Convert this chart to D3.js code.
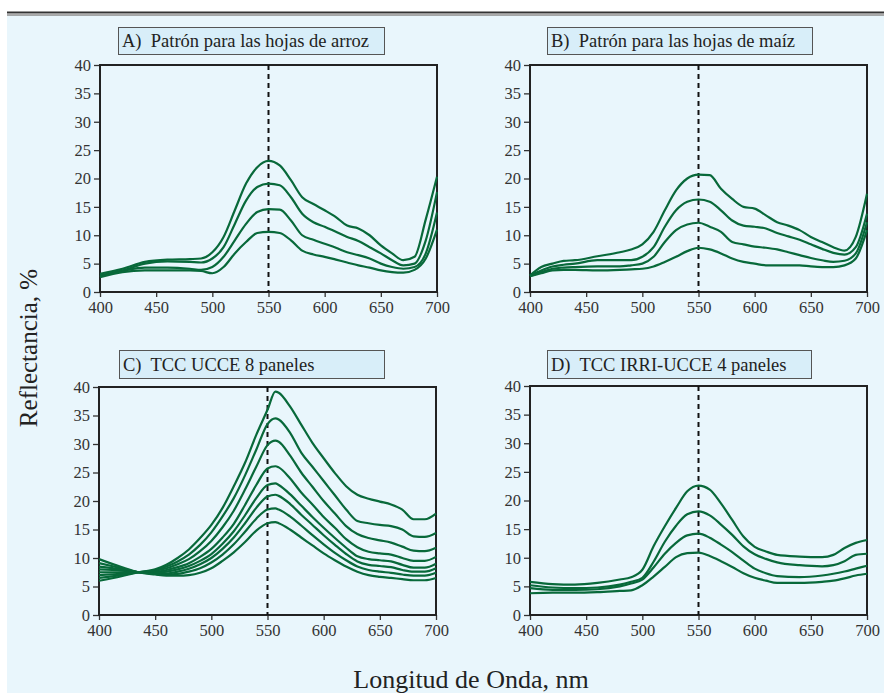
<!DOCTYPE html>
<html>
<head>
<meta charset="utf-8">
<script src="https://cdn.jsdelivr.net/npm/d3@7"></script>
<style>
  body { margin: 0; background: #fff; }
  svg { display: block; }
  svg text { font-family: "Liberation Serif", "Times New Roman", Times, "DejaVu Serif", serif !important; }
</style>
</head>
<body>
<div id="chart"></div>
<script>
// wavelengths (nm) and reflectance (%)
const wlA = [400,420,440,460,480,490,500,510,520,530,540,550,560,570,580,590,600,610,620,630,640,650,660,670,680,690,700];
const serA = [
  [3.2,4.1,5.3,5.7,5.8,5.9,7.0,9.7,14.4,19.1,22.0,23.1,22.3,19.7,16.7,15.5,14.4,13.2,11.7,11.2,10.0,8.2,6.8,5.6,6.2,12.8,20.3],
  [2.9,3.8,5.0,5.4,5.3,5.2,5.9,7.9,12.0,16.1,18.5,19.1,18.8,16.7,13.8,12.3,11.5,10.6,9.7,9.0,7.9,6.8,5.6,4.7,5.0,9.1,17.6],
  [2.8,3.7,4.3,4.3,4.1,3.9,4.4,6.2,9.1,12.0,14.1,14.6,14.5,12.6,10.0,9.2,8.5,7.8,7.0,6.5,5.9,5.0,4.4,4.1,4.4,6.8,14.0],
  [2.6,3.5,3.8,3.8,3.8,3.7,3.3,4.4,6.8,8.8,10.4,10.6,10.4,9.1,7.3,6.6,6.2,5.7,5.2,4.7,4.3,3.8,3.5,3.4,3.9,5.9,11.0]
];

const wlB = [400,410,420,430,440,460,480,490,500,510,520,530,540,550,560,570,580,590,600,610,620,630,640,650,660,670,680,690,700];
const serB = [
  [2.9,4.4,5.0,5.5,5.6,6.3,7.0,7.5,8.4,10.6,14.4,17.9,20.0,20.7,20.6,18.2,16.4,15.0,14.7,13.5,12.3,11.7,10.9,9.7,8.8,7.9,7.3,9.7,17.3],
  [2.9,3.8,4.5,4.8,5.0,5.6,5.6,5.6,6.2,7.9,11.5,14.4,15.9,16.3,15.9,14.4,12.6,11.7,11.5,11.2,10.4,9.8,9.2,8.4,7.6,6.9,6.6,7.9,13.8],
  [2.8,3.5,4.1,4.3,4.4,4.5,4.5,4.7,5.0,6.2,8.8,10.9,11.9,12.2,11.5,10.6,8.8,8.4,8.0,7.8,7.5,7.0,6.5,6.0,5.6,5.3,5.5,6.8,12.3],
  [2.8,3.3,3.8,3.9,3.9,3.8,3.9,4.0,4.1,4.5,5.3,6.2,7.2,7.8,7.5,6.8,5.9,5.3,5.0,4.7,4.7,4.7,4.7,4.5,4.4,4.4,4.7,5.9,10.9]
];

const wlC = [400,420,435,450,460,470,480,490,500,510,520,530,540,550,557,560,570,580,590,600,610,620,630,640,650,660,670,680,690,700];
const serC = [
  [6.0,6.8,7.5,8.0,8.8,10.0,11.5,13.5,15.8,18.8,22.6,26.7,31.6,36.0,39.2,39.0,36.6,33.4,30.2,27.5,24.9,22.6,21.1,20.4,19.9,19.4,18.5,16.8,16.8,17.8],
  [6.5,7.0,7.5,7.9,8.5,9.4,10.6,12.3,14.5,17.3,20.5,24.5,29.0,33.5,34.5,34.3,32.0,28.5,26.0,23.5,21.0,18.5,16.5,16.1,15.8,15.6,15.0,13.8,13.7,14.4],
  [7.0,7.2,7.5,7.8,8.2,8.9,9.8,11.2,13.0,15.4,18.3,22.0,26.0,29.8,30.6,30.4,28.0,25.0,22.5,20.0,17.8,15.6,14.2,13.5,13.1,12.7,12.0,11.3,11.2,11.8],
  [7.5,7.5,7.5,7.6,7.9,8.4,9.1,10.2,11.6,13.6,16.0,19.3,22.8,25.7,26.1,25.9,24.0,21.5,19.4,17.2,15.3,13.3,11.9,11.1,10.8,10.6,10.0,9.5,9.5,10.2],
  [8.0,7.8,7.5,7.4,7.6,8.0,8.6,9.5,10.7,12.5,14.7,17.5,20.5,22.8,23.1,22.8,21.2,19.2,17.2,15.3,13.5,11.8,10.3,9.8,9.6,9.4,8.8,8.3,8.3,9.0],
  [8.5,8.0,7.5,7.3,7.3,7.6,8.1,8.9,10.0,11.6,13.6,16.1,18.8,20.8,21.1,20.9,19.5,17.6,15.8,14.0,12.3,10.7,9.4,8.8,8.6,8.4,7.9,7.6,7.6,8.2],
  [9.1,8.2,7.5,7.2,7.1,7.2,7.6,8.2,9.2,10.6,12.4,14.6,16.9,18.5,18.7,18.5,17.3,15.7,14.0,12.4,10.9,9.6,8.5,7.9,7.6,7.4,7.1,6.9,6.9,7.4],
  [9.8,8.4,7.5,7.1,6.9,6.9,7.0,7.4,8.2,9.5,11.0,12.8,14.8,16.1,16.3,16.1,15.0,13.6,12.2,10.8,9.6,8.5,7.6,7.0,6.7,6.5,6.3,6.1,6.1,6.5]
];

const wlD = [400,420,440,460,480,490,500,510,520,530,540,550,560,570,580,590,600,610,620,640,660,670,680,690,700];
const serD = [
  [5.8,5.4,5.3,5.6,6.2,6.6,7.9,12.0,15.5,18.7,21.6,22.6,21.9,19.5,16.6,13.7,11.9,11.1,10.5,10.2,10.1,10.5,11.7,12.6,13.1],
  [5.2,4.8,4.7,4.8,5.3,5.8,6.5,9.3,12.8,15.6,17.6,18.1,17.4,15.8,14.0,12.0,10.6,9.8,9.2,8.7,8.5,8.7,9.4,10.5,10.7],
  [4.7,4.4,4.4,4.5,5.0,5.5,6.2,8.3,10.7,12.6,13.9,14.2,13.5,12.3,11.0,9.5,8.1,7.3,6.8,6.6,6.9,7.2,7.6,8.1,8.6],
  [3.8,3.9,3.9,4.0,4.2,4.3,5.2,6.7,8.4,10.1,10.8,10.9,10.3,9.4,8.4,7.3,6.5,6.0,5.6,5.6,5.8,6.0,6.4,6.9,7.2]
];

const titles = ["A)  Patrón para las hojas de arroz", "B)  Patrón para las hojas de maíz",
                "C)  TCC UCCE 8 paneles", "D)  TCC IRRI-UCCE 4 paneles"];
const xTicks = [400, 450, 500, 550, 600, 650, 700];
const yTicks = [0, 5, 10, 15, 20, 25, 30, 35, 40];

const W = 884, H = 693;
const green = "#08693a";

const svg = d3.select("#chart").append("svg")
    .attr("width", W)
    .attr("height", H);

// top rule + blue page
svg.append("rect").attr("x", 7).attr("y", 15.5).attr("width", W - 7).attr("height", H - 15.5).attr("fill", "#e9f6fc");
svg.append("line").attr("x1", 7).attr("x2", W).attr("y1", 12.5).attr("y2", 12.5).attr("stroke", "#333").attr("stroke-width", 2);
svg.append("line").attr("x1", 7).attr("x2", W).attr("y1", 15).attr("y2", 15).attr("stroke", "#555").attr("stroke-width", 1);

const panels = [
  { wl: wlA, ser: serA, x0: 100, x1: 437, y0: 65, y1: 292, box: [118, 27, 266, 27] },
  { wl: wlB, ser: serB, x0: 530, x1: 867, y0: 65, y1: 292, box: [547, 27, 265, 27] },
  { wl: wlC, ser: serC, x0: 99, x1: 436, y0: 387, y1: 615, box: [119, 350, 265, 28] },
  { wl: wlD, ser: serD, x0: 530, x1: 867, y0: 386, y1: 615, box: [547, 350, 264, 28] }
];

panels.forEach((p, i) => {
    const x = d3.scaleLinear().domain([400, 700]).range([p.x0, p.x1]);
    const y = d3.scaleLinear().domain([0, 40]).range([p.y1, p.y0]);
    const g = svg.append("g");

    // title box
    g.append("rect")
        .attr("x", p.box[0] + 0.5).attr("y", p.box[1] + 0.5)
        .attr("width", p.box[2]).attr("height", p.box[3])
        .attr("fill", "#d8eef9").attr("stroke", "#555").attr("stroke-width", 1);
    g.append("text")
        .attr("x", p.box[0] + 4).attr("y", p.box[1] + p.box[3] / 2 + 6.5)
        .attr("font-size", 18.5).attr("fill", "#222")
        .style("white-space", "pre")
        .text(titles[i]);

    // axes
    const ax = g.append("g")
        .attr("transform", `translate(0,${p.y1})`)
        .call(d3.axisBottom(x).tickValues(xTicks).tickSize(5).tickPadding(4).tickFormat(d3.format("d")));
    const ay = g.append("g")
        .attr("transform", `translate(${p.x0},0)`)
        .call(d3.axisLeft(y).tickValues(yTicks).tickSize(6).tickPadding(3));
    [ax, ay].forEach(a => {
        a.attr("font-family", null);
        a.select(".domain").remove();
        a.selectAll("line").attr("stroke", "#333").attr("stroke-width", 1.3);
        a.selectAll("text").attr("fill", "#333").style("font-size", "16.5px");
    });

    // frame
    g.append("rect")
        .attr("x", p.x0).attr("y", p.y0)
        .attr("width", p.x1 - p.x0).attr("height", p.y1 - p.y0)
        .attr("fill", "none").attr("stroke", "#222").attr("stroke-width", 2);

    // 550 nm marker
    g.append("line")
        .attr("x1", x(550)).attr("x2", x(550))
        .attr("y1", p.y0).attr("y2", p.y1)
        .attr("stroke", "#111").attr("stroke-width", 2)
        .attr("stroke-dasharray", "5,4");

    const line = d3.line()
        .x((d, k) => x(p.wl[k]))
        .y(d => y(d))
        .curve(d3.curveMonotoneX);

    g.selectAll("path.curve")
        .data(p.ser)
        .enter().append("path")
        .attr("class", "curve")
        .attr("d", line)
        .attr("fill", "none")
        .attr("stroke", green)
        .attr("stroke-width", 2.2);
});

svg.append("text")
    .attr("transform", "translate(37,348) rotate(-90)")
    .attr("text-anchor", "middle")
    .attr("font-size", 25).attr("fill", "#222")
    .text("Reflectancia, %");

svg.append("text")
    .attr("x", 471).attr("y", 688)
    .attr("text-anchor", "middle")
    .attr("font-size", 26).attr("fill", "#222")
    .text("Longitud de Onda, nm");
</script>
</body>
</html>
